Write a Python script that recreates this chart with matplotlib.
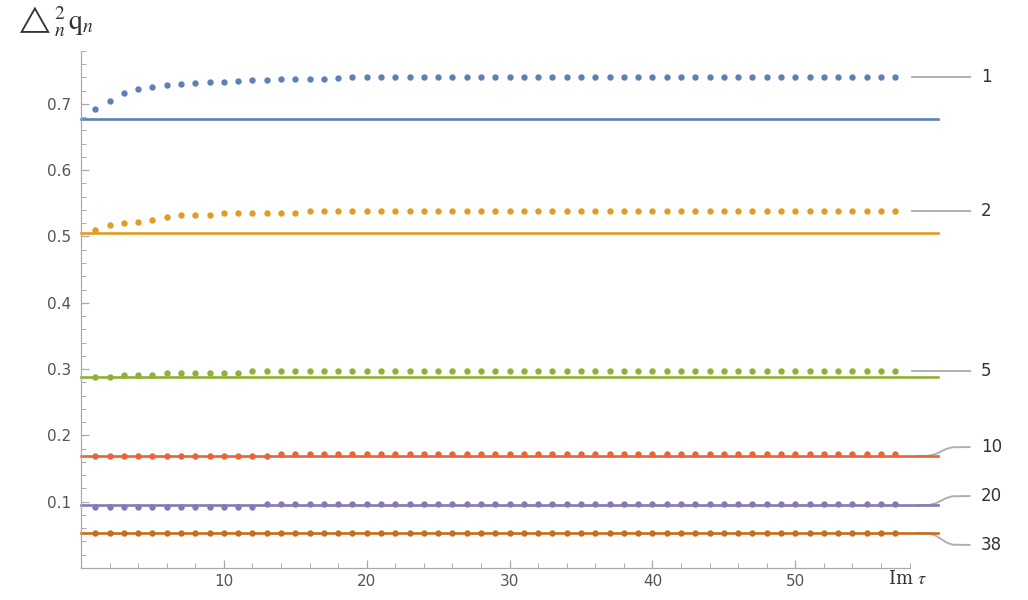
import matplotlib.pyplot as plt
from matplotlib.ticker import MultipleLocator

# n = Im tau sample points
n = list(range(1, 58))

# dotted series
q1 = [0.692, 0.704, 0.716, 0.722, 0.725, 0.728, 0.730, 0.731, 0.733, 0.733,
      0.734, 0.736, 0.736, 0.737, 0.737, 0.738, 0.738, 0.739, 0.740] + [0.7405] * 38
q2 = [0.510, 0.517, 0.520, 0.522, 0.525, 0.529, 0.532, 0.532, 0.532, 0.535,
      0.535, 0.535, 0.535, 0.535, 0.535, 0.538] + [0.538] * 41
q5 = [0.2885, 0.2885, 0.2915, 0.2915, 0.2915, 0.2945, 0.2945, 0.2945, 0.2945, 0.2945,
      0.2945] + [0.297] * 46
q10 = [0.169] * 13 + [0.172] * 44
q20 = [0.0925] * 12 + [0.0965] * 45
q38 = [0.053] * 57

# limiting values (solid lines)
limits = [0.677, 0.505, 0.288, 0.169, 0.0945, 0.0528]
labels = ["1", "2", "5", "10", "20", "38"]
colors = ["#5E81B5", "#E19C24", "#8FB032", "#EB6235", "#8778B3", "#C56E1A"]
series = [q1, q2, q5, q10, q20, q38]
label_y = [0.7405, 0.538, 0.2965, 0.1825, 0.1086, 0.0347]

plt.rcParams["mathtext.fontset"] = "stix"

fig = plt.figure(figsize=(10.28, 6.0), dpi=100)
ax = fig.add_axes([0.0788, 0.0533, 0.806, 0.862])

for s, lim, c in zip(series, limits, colors):
    ax.plot([0, 60], [lim, lim], color=c, lw=1.9, clip_on=False, zorder=2)
    ax.plot(n, s, "o", color=c, ms=4.6, mew=0, clip_on=False, zorder=3)

# callout lines + labels on the right
grey = "#b0b0b0"
for i, (lab, ly) in enumerate(zip(labels, label_y)):
    if i < 3:
        xs = [58.2, 62.2]
        ys = [series[i][-1], series[i][-1]]
    else:
        y0 = limits[i]
        d = ly - y0
        xs = [58.6, 59.3, 59.8, 60.2, 60.6, 61.0, 62.2]
        ys = [y0, y0 + 0.02 * d, y0 + 0.2 * d, y0 + 0.5 * d, y0 + 0.8 * d, y0 + 0.97 * d, ly]
    ax.plot(xs, ys, color=grey, lw=1.4, clip_on=False, zorder=1)
    ax.text(63.0, ly, lab, ha="left", va="center", fontsize=12,
            color="#333333", clip_on=False)

ax.set_xlim(0, 58)
ax.set_ylim(0, 0.78)
ax.spines["top"].set_visible(False)
ax.spines["right"].set_visible(False)
for sp in ["left", "bottom"]:
    ax.spines[sp].set_color("#aaaaaa")
    ax.spines[sp].set_linewidth(0.9)

ax.xaxis.set_major_locator(MultipleLocator(10))
ax.xaxis.set_minor_locator(MultipleLocator(2))
ax.yaxis.set_major_locator(MultipleLocator(0.1))
ax.yaxis.set_minor_locator(MultipleLocator(0.02))
ax.tick_params(which="both", direction="in", color="#aaaaaa", labelcolor="#555555",
               labelsize=11)
ax.tick_params(which="major", length=6, width=0.9)
ax.tick_params(which="minor", length=3.5, width=0.7)
ax.tick_params(axis="x", pad=4)
ax.tick_params(axis="y", pad=7)
ax.set_xticks([10, 20, 30, 40, 50])
ax.set_yticks([0.1, 0.2, 0.3, 0.4, 0.5, 0.6, 0.7])

ax.text(56.5, -0.016, r"Im $\tau$", ha="left", va="center", fontsize=13,
        family="serif", color="#333333", clip_on=False)
ax.text(-1.9, 0.824, r"$\triangle_n^2\,\mathrm{q}_n$", ha="center", va="center",
        fontsize=20, color="#333333", clip_on=False)

fig.savefig("out.png", dpi=100, facecolor="white")
